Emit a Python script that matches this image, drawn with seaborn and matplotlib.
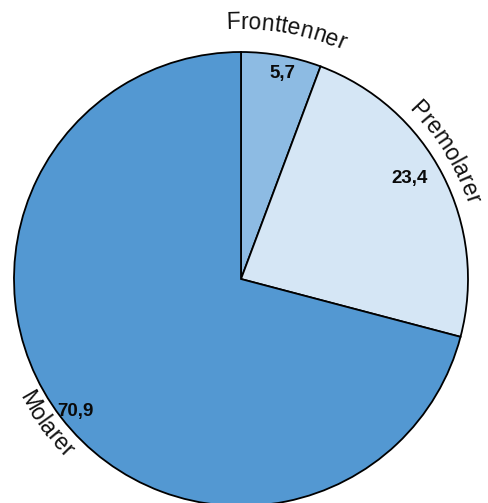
import numpy as np
import seaborn as sns
import matplotlib.pyplot as plt
from matplotlib.font_manager import FontProperties

# Data
categories = ["Fronttenner", "Premolarer", "Molarer"]
values = [5.7, 23.4, 70.9]
colors = ["#8dbbe3", "#d5e6f5", "#5398d2"]

sns.set_theme(style="white")
plt.rcParams['font.family'] = ['Liberation Sans', 'DejaVu Sans']

fig = plt.figure(figsize=(4.89, 5.03), dpi=100)
ax = fig.add_axes([0, 0, 1, 1])

cx, cy, R = 241, 224, 227
wedges, _, autotexts = ax.pie(
    values, colors=colors, startangle=90, counterclock=False,
    radius=R, center=(cx, cy),
    wedgeprops=dict(edgecolor="black", linewidth=1.3),
    autopct=lambda p: f"{p:.1f}".replace(".", ","),
)
ax.set_xlim(0, 489)
ax.set_ylim(0, 503)
ax.set_aspect("equal")
ax.axis("off")

# slice mid angles (degrees, clockwise from top)
cum = np.cumsum(values)
mids = 90 - 360 * (cum - np.array(values) / 2) / sum(values)

# value labels
val_font = FontProperties(family=['Liberation Sans', 'DejaVu Sans'], weight='bold', size=13.5)
val_shift = [-1.2, 3.5, 1.1]
val_rad = [210, 196, 212]
for t, m, s, rr in zip(autotexts, mids, val_shift, val_rad):
    a = np.radians(m + s)
    t.set_position((cx + rr * np.cos(a), cy + rr * np.sin(a)))
    t.set_fontproperties(val_font)
    t.set_color("#0a0a0a")
    t.set_ha("center")
    t.set_va("center")

# curved category labels
renderer = fig.canvas.get_renderer()
lab_font = FontProperties(family=['Liberation Sans', 'DejaVu Sans'], size=16.5)


def curved_text(s, angle, r, top=True):
    widths = [renderer.get_text_width_height_descent(ch, lab_font, ismath=False)[0] for ch in s]
    total = np.degrees(sum(widths) / r)
    pos = 0.0
    for ch, w in zip(s, widths):
        off = np.degrees((pos + w / 2) / r)
        if top:
            th = angle + total / 2 - off
            rot = th - 90
        else:
            th = angle - total / 2 + off
            rot = th + 90
        a = np.radians(th)
        ax.text(cx + r * np.cos(a), cy + r * np.sin(a), ch, fontproperties=lab_font,
                rotation=rot, rotation_mode="anchor", ha="center", va="baseline",
                color="#111111")
        pos += w


lab_shift = [0, 4.4, -1.0]
lab_rad = [250, 238, 251]
for name, m, s, rr in zip(categories, mids, lab_shift, lab_rad):
    ang = m + s
    top = np.sin(np.radians(ang)) > -0.2
    curved_text(name, ang, rr, top=top)

plt.savefig("out.png", dpi=100)
